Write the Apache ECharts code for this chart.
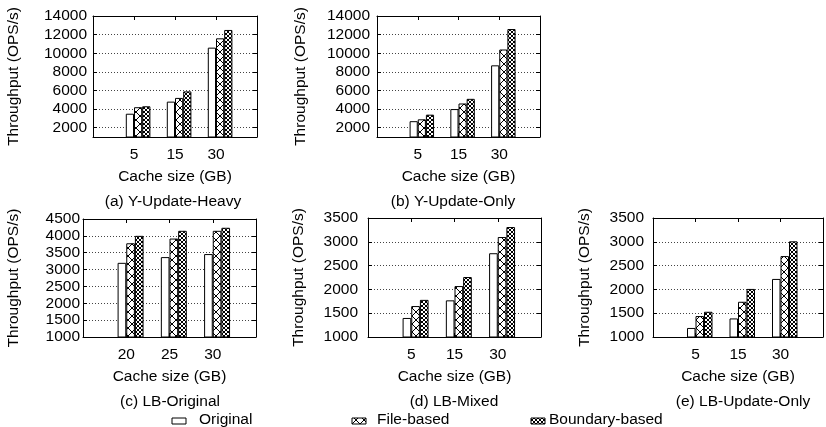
<!DOCTYPE html>
<html>
<head>
<meta charset="utf-8">
<script src="https://cdn.jsdelivr.net/npm/echarts@6/dist/echarts.min.js"></script>
<style>
html, body { margin: 0; padding: 0; background: #fff; }
#chart { width: 826px; height: 427px; }
</style>
</head>
<body>
<div id="chart"></div>
<script>
// cache sizes (GB)
var cacheY = ['5', '15', '30']
var cacheLbOrig = ['20', '25', '30']
var cacheLb = ['5', '15', '30']

var seriesNames = ['Original', 'File-based', 'Boundary-based']

// (a) Y-Update-Heavy
var origA = [3500, 4800, 10600]
var fileA = [4200, 5200, 11600]
var bndA = [4300, 5900, 12500]
// (b) Y-Update-Only
var origB = [2700, 4000, 8700]
var fileB = [2900, 4600, 10400]
var bndB = [3400, 5100, 12600]
// (c) LB-Original
var origC = [3200, 3370, 3460]
var fileC = [3780, 3920, 4150]
var bndC = [4000, 4150, 4240]
// (d) LB-Mixed
var origD = [1400, 1770, 2760]
var fileD = [1650, 2070, 3100]
var bndD = [1780, 2260, 3310]
// (e) LB-Update-Only
var origE = [1190, 1390, 2220]
var fileE = [1440, 1740, 2700]
var bndE = [1530, 2010, 3010]

// y tick labels
var ticksY = [2000, 4000, 6000, 8000, 10000, 12000, 14000]
var ticksLbOrig = [1000, 1500, 2000, 2500, 3000, 3500, 4000, 4500]
var ticksLb = [1000, 1500, 2000, 2500, 3000, 3500]

var FONT = 'Liberation Sans'
var FS = 15.5

// hatch fills like gnuplot patterns
function hatch (size, lw) {
  var c = document.createElement('canvas')
  c.width = c.height = size
  var ctx = c.getContext('2d')
  ctx.fillStyle = '#fff'
  ctx.fillRect(0, 0, size, size)
  ctx.strokeStyle = '#000'
  ctx.lineWidth = lw
  ctx.beginPath()
  ctx.moveTo(-1, -1); ctx.lineTo(size + 1, size + 1)
  ctx.moveTo(size + 1, -1); ctx.lineTo(-1, size + 1)
  ctx.stroke()
  return c
}
var fills = [
  '#fff',
  { image: hatch(8, 1), repeat: 'repeat' },
  { image: hatch(4, 1), repeat: 'repeat' }
]

var panels = [
  { cats: cacheY, vals: [origA, fileA, bndA], ticks: ticksY, min: 1000, max: 14000,
    left: 93, top: 16, width: 164, height: 121, lm: 6, ng: 71, title: '(a) Y-Update-Heavy', tx: 173, ty: 202 },
  { cats: cacheY, vals: [origB, fileB, bndB], ticks: ticksY, min: 1000, max: 14000,
    left: 377, top: 16, width: 163, height: 121, lm: 7, ng: 68, title: '(b) Y-Update-Only', tx: 453, ty: 202 },
  { cats: cacheLbOrig, vals: [origC, fileC, bndC], ticks: ticksLbOrig, min: 1000, max: 4500,
    left: 83, top: 219, width: 173, height: 118, lm: 3, ng: 61, title: '(c) LB-Original', tx: 170, ty: 402 },
  { cats: cacheLb, vals: [origD, fileD, bndD], ticks: ticksLb, min: 1000, max: 3500,
    left: 368, top: 218, width: 173, height: 119, lm: 10, ng: 61, title: '(d) LB-Mixed', tx: 454, ty: 402 },
  { cats: cacheLb, vals: [origE, fileE, bndE], ticks: ticksLb, min: 1000, max: 3500,
    left: 653, top: 218, width: 171, height: 119, lm: 9, ng: 60, title: '(e) LB-Update-Only', tx: 743, ty: 402 }
]

var grid = [], xAxis = [], yAxis = [], series = [], graphic = []
var axisLine = { show: true, lineStyle: { color: '#000', width: 1 } }
var txt = { fontFamily: FONT, fontSize: FS, color: '#000' }

panels.forEach(function (p, i) {
  // empty slot each side: gnuplot xrange [-1:3]
  var cats = [''].concat(p.cats, [''])
  grid.push({ left: p.left, top: p.top, width: p.width, height: p.height })
  xAxis.push({
    type: 'category', gridIndex: i, data: cats, boundaryGap: false, position: 'bottom',
    axisLine: axisLine, axisTick: { inside: true, length: 4, interval: 0, lineStyle: { color: '#000' } },
    axisLabel: Object.assign({ interval: 0, margin: 10 }, txt),
    name: 'Cache size (GB)', nameLocation: 'middle', nameGap: 32, nameTextStyle: txt
  })
  xAxis.push({
    type: 'category', gridIndex: i, data: cats, boundaryGap: false, position: 'top',
    axisLine: axisLine, axisTick: { inside: true, length: 4, interval: 0, lineStyle: { color: '#000' } },
    axisLabel: { show: false }
  })
  yAxis.push({
    type: 'value', gridIndex: i, min: p.min, max: p.max, position: 'left',
    axisLine: axisLine,
    axisTick: { show: true, inside: true, length: 4, customValues: p.ticks, lineStyle: { color: '#000' } },
    axisLabel: Object.assign({ customValues: p.ticks, margin: p.lm, formatter: function (v) { return String(v) } }, txt),
    splitLine: { show: true, lineStyle: { color: '#444', width: 1, type: [1, 2] } },
    name: 'Throughput (OPS/s)', nameLocation: 'middle', nameGap: p.ng, nameRotate: 90, nameTextStyle: txt
  })
  yAxis.push({
    type: 'value', gridIndex: i, min: p.min, max: p.max, position: 'right',
    axisLine: axisLine,
    axisTick: { show: true, inside: true, length: 4, customValues: p.ticks, lineStyle: { color: '#000' } },
    axisLabel: { show: false }, splitLine: { show: false }
  })
  // blank slot so the first bar ends at the tick, as in the original
  series.push({
    type: 'bar', name: '_gap', xAxisIndex: 2 * i, yAxisIndex: 2 * i,
    data: cats.map(function () { return null }), barWidth: '20%', barGap: '0%', silent: true
  })
  seriesNames.forEach(function (nm, k) {
    series.push({
      type: 'bar', name: nm, xAxisIndex: 2 * i, yAxisIndex: 2 * i,
      data: [null].concat(p.vals[k], [null]),
      barWidth: '20%', barGap: '0%',
      itemStyle: { color: fills[k], borderColor: '#000', borderWidth: 1 }
    })
  })
  graphic.push({
    type: 'text', x: p.tx, y: p.ty,
    style: { text: p.title, font: FS + 'px "' + FONT + '"', fill: '#000', align: 'center', verticalAlign: 'middle' }
  })
})

// key along the bottom
var keyIcons = [172, 352, 531]
var keyTexts = [199, 377, 549]
seriesNames.forEach(function (nm, k) {
  graphic.push({
    type: 'rect', shape: { x: keyIcons[k], y: 418, width: 14, height: 6 },
    style: { fill: fills[k], stroke: '#000', lineWidth: 1 }
  })
  graphic.push({
    type: 'text', x: keyTexts[k], y: 420,
    style: { text: nm, font: FS + 'px "' + FONT + '"', fill: '#000', align: 'left', verticalAlign: 'middle' }
  })
})

var chart = echarts.init(document.getElementById('chart'), null, { renderer: 'canvas' })
chart.setOption({
  animation: false,
  backgroundColor: '#fff',
  grid: grid,
  xAxis: xAxis,
  yAxis: yAxis,
  series: series,
  graphic: graphic
})
</script>
</body>
</html>
